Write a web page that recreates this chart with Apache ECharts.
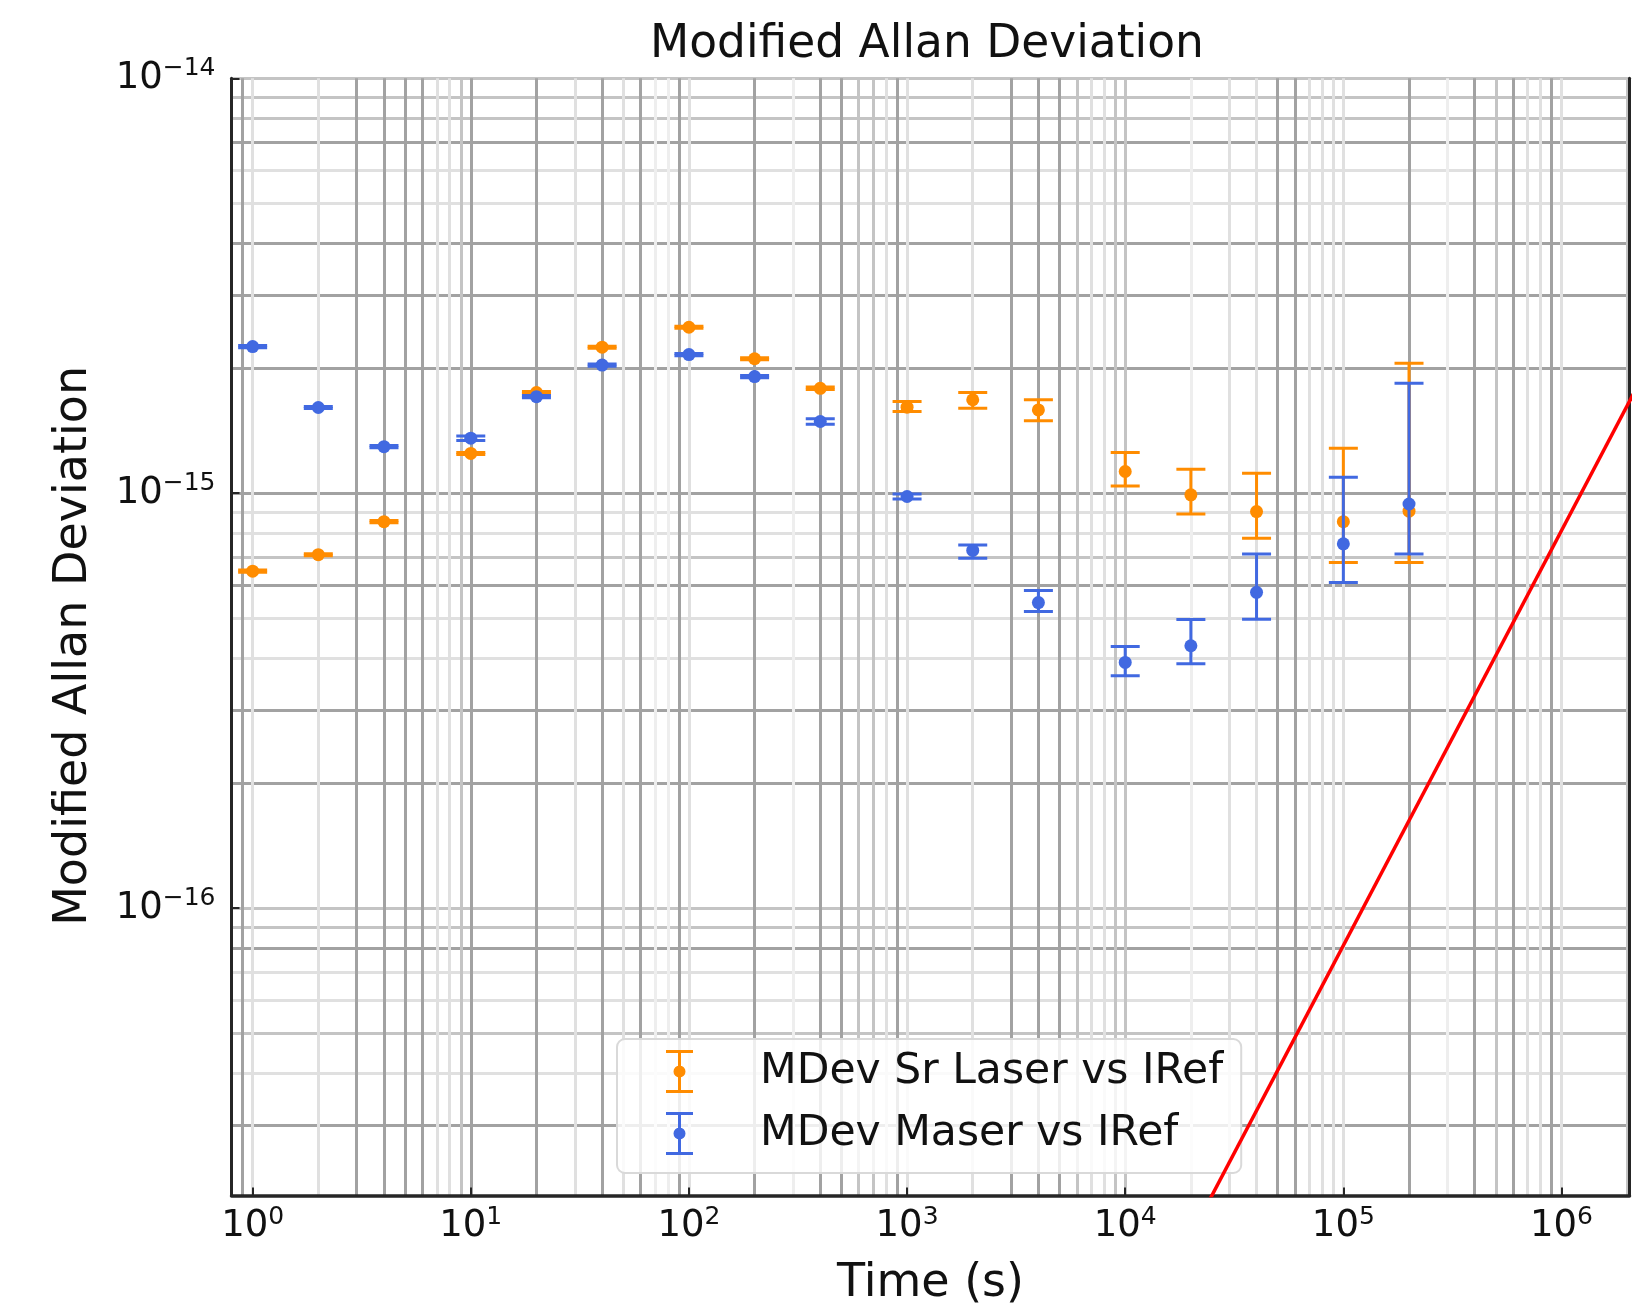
<!DOCTYPE html>
<html>
<head>
<meta charset="utf-8">
<script src="https://cdn.jsdelivr.net/npm/echarts@6/dist/echarts.min.js"></script>
<style>
html,body{margin:0;padding:0;background:#ffffff;}
#chart{width:1650px;height:1306px;}
</style>
</head>
<body>
<div id="chart"></div>
<script>
// ---------------- data ----------------
const taus = [1, 2, 4, 10, 20, 40, 100, 200, 400, 1000, 2000, 4000, 10000, 20000, 40000, 100000, 200000];

const srDev = [6.49e-16, 7.11e-16, 8.54e-16, 1.247e-15, 1.749e-15, 2.249e-15, 2.512e-15, 2.109e-15, 1.790e-15,
               1.612e-15, 1.680e-15, 1.588e-15, 1.128e-15, 9.91e-16, 9.03e-16, 8.54e-16, 9.05e-16];
const srLo  = [6.45e-16, 7.07e-16, 8.49e-16, 1.240e-15, 1.739e-15, 2.236e-15, 2.497e-15, 2.097e-15, 1.778e-15,
               1.573e-15, 1.603e-15, 1.496e-15, 1.041e-15, 8.91e-16, 7.79e-16, 6.81e-16, 6.81e-16];
const srHi  = [6.53e-16, 7.15e-16, 8.59e-16, 1.254e-15, 1.759e-15, 2.262e-15, 2.527e-15, 2.121e-15, 1.802e-15,
               1.663e-15, 1.749e-15, 1.680e-15, 1.253e-15, 1.142e-15, 1.117e-15, 1.284e-15, 2.058e-15];

const maserDev = [2.256e-15, 1.609e-15, 1.295e-15, 1.357e-15, 1.709e-15, 2.036e-15, 2.158e-15, 1.910e-15, 1.489e-15,
                  9.82e-16, 7.28e-16, 5.45e-16, 3.91e-16, 4.29e-16, 5.77e-16, 7.55e-16, 9.42e-16];
const maserLo  = [2.243e-15, 1.600e-15, 1.287e-15, 1.340e-15, 1.699e-15, 2.024e-15, 2.145e-15, 1.899e-15, 1.467e-15,
                  9.68e-16, 6.97e-16, 5.19e-16, 3.63e-16, 3.88e-16, 4.97e-16, 6.09e-16, 7.14e-16];
const maserHi  = [2.269e-15, 1.618e-15, 1.303e-15, 1.374e-15, 1.719e-15, 2.048e-15, 2.171e-15, 1.921e-15, 1.511e-15,
                  9.96e-16, 7.50e-16, 5.83e-16, 4.27e-16, 4.96e-16, 7.14e-16, 1.093e-15, 1.841e-15];

// red reference line (two end points, clipped by the plot area)
const driftTau = [1e4, 1e7];
const driftDev = [8.13e-18, 8.13e-15];

const seriesNames = ['MDev Sr Laser vs IRef', 'MDev Maser vs IRef'];

// axis ranges and tick values
const xRange = [0.80, 2.05e6];
const yRange = [2.03e-17, 1e-14];
const xMajorTicks = [1, 10, 100, 1e3, 1e4, 1e5, 1e6];
const yMajorTicks = [1e-16, 1e-15, 1e-14];
const minorMantissas = [2, 3, 4, 5, 6, 7, 8, 9];

// ---------------- styles ----------------
const FONT = 'DejaVu Sans';
const ORANGE = '#ff8c00';
const BLUE = '#4169e1';
// grid-line shades (the reference's grid is unevenly rendered: some lines dark, some faint)
const D = '#a2a2a2', M = '#c4c4c4', T = '#e0e0e0', V = '#eeeeee';
const xMajorGridColors = [T, D, T, T, M, T, T];
const xMinorGridColors = [M, D,
  T, D, D, D, D, T, T, M,
  D, T, D, T, D, V, V, D,
  D, V, D, D, M, M, T, D,
  T, D, D, D, M, T, T, M,
  V, T, T, D, D, T, T, T,
  D, V, D, M, D, T, T, D,
  M];
const yMajorGridColors = [M, D, M];
const yMinorGridColors = [
  D, T, M, T, T, D, M,
  D, D, T, T, D, M, T, T,
  D, D, D, T, T, D, M, M];

// ---------------- helpers ----------------
const L = Math.log10;
const xMinorTicks = [0.8, 0.9];
[1, 10, 100, 1e3, 1e4, 1e5, 1e6].forEach(d => minorMantissas.forEach(m => { if (m * d <= xRange[1]) xMinorTicks.push(m * d); }));
const yMinorTicks = [];
[1e-17, 1e-16, 1e-15].forEach(d => minorMantissas.forEach(m => { if (m * d >= yRange[0]) yMinorTicks.push(m * d); }));

const srPts = taus.map((t, i) => [L(t), L(srDev[i])]);
const srErr = taus.map((t, i) => [L(t), L(srLo[i]), L(srHi[i])]);
const maserPts = taus.map((t, i) => [L(t), L(maserDev[i])]);
const maserErr = taus.map((t, i) => [L(t), L(maserLo[i]), L(maserHi[i])]);
const driftPts = driftTau.map((t, i) => [L(t), L(driftDev[i])]);

function errRender(color) {
  return function (params, api) {
    const x = api.value(0), lo = api.value(1), hi = api.value(2);
    const pLo = api.coord([x, lo]);
    const pHi = api.coord([x, hi]);
    const w = 14.5;
    const style = { stroke: color, lineWidth: 3, fill: null };
    return {
      type: 'group',
      children: [
        { type: 'line', shape: { x1: pLo[0], y1: pLo[1], x2: pHi[0], y2: pHi[1] }, style: style },
        { type: 'line', shape: { x1: pLo[0] - w, y1: pLo[1], x2: pLo[0] + w, y2: pLo[1] }, style: style },
        { type: 'line', shape: { x1: pHi[0] - w, y1: pHi[1], x2: pHi[0] + w, y2: pHi[1] }, style: style }
      ]
    };
  };
}

const rich = {
  b: { fontSize: 37, fontFamily: FONT, color: '#111', lineHeight: 44 },
  s: { fontSize: 25, fontFamily: FONT, color: '#111', lineHeight: 28, verticalAlign: 'top' }
};

const ICON = 'path://M0,0H27V3H0Z M12,3H15V40H12Z M0,40H27V43H0Z M7.5,21.5A6,6 0 1,1 19.5,21.5A6,6 0 1,1 7.5,21.5Z';

const chart = echarts.init(document.getElementById('chart'), null, { renderer: 'canvas' });

chart.setOption({
  backgroundColor: '#ffffff',
  animation: false,
  title: {
    text: 'Modified Allan Deviation',
    left: 645,
    top: 17,
    textStyle: { fontSize: 45.5, fontWeight: 'normal', fontFamily: FONT, color: '#111' }
  },
  grid: { left: 231.5, right: 20.5, top: 78.3, bottom: 110.5, containLabel: false, outerBoundsMode: 'none' },
  legend: {
    data: [
      { name: seriesNames[0], icon: ICON, itemStyle: { color: ORANGE, borderWidth: 0 } },
      { name: seriesNames[1], icon: ICON, itemStyle: { color: BLUE, borderWidth: 0 } }
    ],
    orient: 'vertical',
    left: 617,
    top: 1039,
    itemWidth: 27,
    itemHeight: 43,
    itemGap: 19,
    padding: [11, 18, 18, 49],
    backgroundColor: 'rgba(255,255,255,0.82)',
    borderColor: '#d9d9d9',
    borderWidth: 2,
    borderRadius: 8,
    selectedMode: false,
    textStyle: { fontSize: 42.5, fontFamily: FONT, color: '#111', lineHeight: 43, padding: [0, 0, 0, 62] }
  },
  xAxis: [
    {
      type: 'value',
      min: L(xRange[0]), max: L(xRange[1]),
      position: 'bottom',
      name: 'Time (s)',
      nameLocation: 'middle',
      nameGap: 66,
      nameTextStyle: { fontSize: 46, fontFamily: FONT, color: '#111' },
      axisLine: { show: true, onZero: false, lineStyle: { color: '#262626', width: 3.5 } },
      axisTick: { show: true, inside: true, length: 8, customValues: xMajorTicks.map(L), lineStyle: { color: '#262626', width: 2 } },
      axisLabel: {
        customValues: xMajorTicks.map(L),
        margin: 9,
        formatter: v => '{b|10}{s|' + Math.round(v) + '}',
        rich: rich
      },
      splitLine: { show: true, lineStyle: { color: xMajorGridColors, width: 3 } }
    },
    {
      type: 'value',
      min: L(xRange[0]), max: L(xRange[1]),
      position: 'top',
      axisLine: { show: false },
      axisTick: { show: false, customValues: xMinorTicks.map(L) },
      axisLabel: { show: false },
      splitLine: { show: true, lineStyle: { color: xMinorGridColors, width: 3 } }
    }
  ],
  yAxis: [
    {
      type: 'value',
      min: L(yRange[0]), max: L(yRange[1]),
      position: 'left',
      name: 'Modified Allan Deviation',
      nameLocation: 'middle',
      nameGap: 134,
      nameTextStyle: { fontSize: 46, fontFamily: FONT, color: '#111', padding: [0, 18, 0, 0] },
      axisLine: { show: true, onZero: false, lineStyle: { color: '#262626', width: 3 } },
      axisTick: { show: true, inside: true, length: 8, customValues: yMajorTicks.map(L), lineStyle: { color: '#262626', width: 2 } },
      axisLabel: {
        customValues: yMajorTicks.map(L),
        margin: 16,
        formatter: v => '{b|10}{s|\u2212' + Math.round(-v) + '}',
        rich: rich
      },
      splitLine: { show: true, lineStyle: { color: yMajorGridColors, width: 3 } }
    },
    {
      type: 'value',
      min: L(yRange[0]), max: L(yRange[1]),
      position: 'right',
      axisLine: { show: true, onZero: false, lineStyle: { color: '#262626', width: 3 } },
      axisTick: { show: false, customValues: yMinorTicks.map(L) },
      axisLabel: { show: false },
      splitLine: { show: true, lineStyle: { color: yMinorGridColors, width: 3 } }
    }
  ],
  series: [
    {
      name: seriesNames[0], type: 'custom', xAxisIndex: 0, yAxisIndex: 0,
      renderItem: errRender(ORANGE), data: srErr, encode: { x: 0, y: [1, 2] },
      itemStyle: { color: ORANGE }, clip: true, z: 3, silent: true
    },
    {
      name: seriesNames[0], type: 'scatter', xAxisIndex: 0, yAxisIndex: 0,
      data: srPts, symbol: 'circle', symbolSize: 13, itemStyle: { color: ORANGE, opacity: 1 }, z: 4, silent: true
    },
    {
      name: seriesNames[1], type: 'custom', xAxisIndex: 0, yAxisIndex: 0,
      renderItem: errRender(BLUE), data: maserErr, encode: { x: 0, y: [1, 2] },
      itemStyle: { color: BLUE }, clip: true, z: 5, silent: true
    },
    {
      name: seriesNames[1], type: 'scatter', xAxisIndex: 0, yAxisIndex: 0,
      data: maserPts, symbol: 'circle', symbolSize: 13, itemStyle: { color: BLUE, opacity: 1 }, z: 6, silent: true
    },
    {
      name: 'drift', type: 'line', xAxisIndex: 0, yAxisIndex: 0,
      data: driftPts, symbol: 'none', clip: true,
      lineStyle: { color: '#ff0000', width: 3.5 }, z: 7, silent: true
    }
  ]
});
</script>
</body>
</html>
